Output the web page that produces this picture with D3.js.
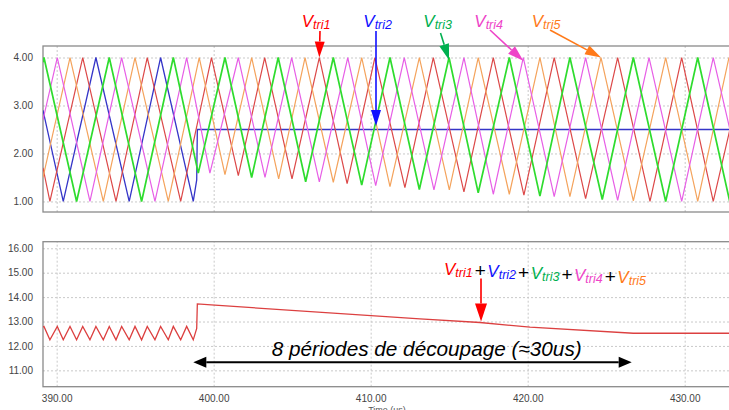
<!DOCTYPE html>
<html><head><meta charset="utf-8">
<script src="https://cdn.jsdelivr.net/npm/d3@7"></script>
<style>
html,body{margin:0;padding:0;background:#fff;overflow:hidden;}
svg{display:block;font-family:"Liberation Sans",Arial,sans-serif;}
</style></head><body>
<svg id="c" width="729" height="410"></svg>
<script>
// ---- data (time in us, values in V) ----
const xTicks = [390, 400, 410, 420, 430];
const topYTicks = [1, 2, 3, 4];
const bottomYTicks = [11, 12, 13, 14, 15, 16];

// Vtri1 (red)
const vtri1 = [[389.13,1.7],[389.57,1.0],[391.66,4.0],[393.78,1.0],[395.77,4.0],[397.90,1.0],[399.86,4.0],[401.57,1.54],[403.25,4.0],[404.99,1.47],[406.73,4.0],[408.50,1.37],[410.27,4.0],[412.18,1.29],[413.99,4.0],[415.94,1.20],[417.81,4.0],[419.76,1.13],[421.69,4.0],[423.69,1.06],[425.73,4.0],[427.79,1.0],[429.81,4.0],[431.82,1.0],[432.95,2.6]];
// Vtri2 (blue)
const vtri2 = [[389.13,2.9],[390.42,1.0],[392.50,4.0],[394.62,1.0],[396.62,4.0],[398.70,1.0],[398.92,1.45],[398.96,2.5],[432.95,2.5]];
// Vtri3 (green)
const vtri3 = [[389.13,3.9],[389.19,4.0],[391.27,1.0],[393.35,4.0],[395.41,1.0],[397.43,4.0],[399.02,1.59],[400.72,4.0],[402.42,1.50],[404.11,4.0],[405.86,1.41],[407.62,4.0],[409.43,1.34],[411.23,4.0],[413.10,1.25],[414.99,4.0],[416.85,1.18],[418.83,4.0],[420.78,1.11],[422.69,4.0],[424.75,1.04],[426.73,4.0],[428.79,1.0],[430.83,4.0],[432.87,1.0]];
// Vtri4 (magenta)
const vtri4 = [[389.13,2.7],[390.04,4.0],[392.12,1.0],[394.14,4.0],[396.26,1.0],[398.28,4.0],[399.76,1.59],[401.57,4.0],[403.27,1.50],[404.97,4.0],[406.73,1.41],[408.54,4.0],[410.32,1.33],[412.14,4.0],[414.03,1.24],[415.94,4.0],[417.81,1.15],[419.72,4.0],[421.69,1.10],[423.69,4.0],[425.73,1.02],[427.73,4.0],[429.81,1.0],[431.82,4.0],[432.95,2.4]];
// Vtri5 (orange)
const vtri5 = [[389.13,1.5],[390.85,4.0],[392.97,1.0],[394.99,4.0],[397.11,1.0],[399.08,4.0],[400.72,1.56],[402.42,4.0],[404.14,1.47],[405.82,4.0],[407.62,1.40],[409.43,4.0],[411.23,1.31],[413.10,4.0],[415.01,1.24],[416.85,4.0],[418.83,1.15],[420.78,4.0],[422.69,1.10],[424.67,4.0],[426.73,1.01],[428.79,4.0],[430.83,1.0],[432.82,4.0]];
// Sum Vtri1+...+Vtri5
const vsum = [[389.13,12.78],[389.19,12.8],[389.57,12.25],[390.04,12.8],[390.42,12.25],[390.85,12.8],[391.27,12.25],[391.66,12.8],[392.12,12.25],[392.50,12.8],[392.97,12.25],[393.35,12.8],[393.78,12.25],[394.14,12.8],[394.62,12.25],[394.99,12.8],[395.41,12.25],[395.77,12.8],[396.26,12.25],[396.62,12.8],[397.11,12.25],[397.43,12.8],[397.90,12.25],[398.28,12.8],[398.70,12.25],[398.92,12.72],[398.96,13.72],[399.84,13.68],[413.14,13.11],[416.96,12.96],[420.15,12.77],[426.73,12.52],[432.95,12.52]];

const seriesColors = {vtri1:"#dc4848", vtri2:"#3535c8", vtri3:"#2edc2e", vtri4:"#e75ee6", vtri5:"#f4a35c"};
const labelColors = ["#ff0000","#1010ff","#00b050","#ee44c8","#ff7a1a"];
const labelSubs = ["tri1","tri2","tri3","tri4","tri5"];

// ---- layout ----
const svg = d3.select("#c");
const L = 43, R = 731;
const x = d3.scaleLinear().domain([389.13, 432.95]).range([L, R]);
const yTop = d3.scaleLinear().domain([0.78, 4.24]).range([212, 46]);
const yBot = d3.scaleLinear().domain([10.33, 16.27]).range([386.7, 241.7]);

const defs = svg.append("defs");
function clip(id, y0, y1){
  defs.append("clipPath").attr("id", id).append("rect")
    .attr("x", L).attr("y", y0).attr("width", R-L).attr("height", y1-y0);
}
clip("cTop", 46, 212); clip("cBot", 241.7, 386.7);

function panel(y, ticks, y0, y1, showX){
  const g = svg.append("g");
  const gy = g.append("g").attr("transform", `translate(${L},0)`)
    .call(d3.axisLeft(y).tickValues(ticks).tickSize(-(R-L)).tickFormat(""));
  gy.select(".domain").remove();
  gy.selectAll("line").attr("stroke", "#c9c9c9").attr("stroke-dasharray", "2,2");
  const gx = g.append("g").attr("transform", `translate(0,${y1})`)
    .call(d3.axisBottom(x).tickValues(xTicks).tickSize(-(y1-y0)).tickFormat(""));
  gx.select(".domain").remove();
  gx.selectAll("line").attr("stroke", "#c9c9c9").attr("stroke-dasharray", "2,2");
  const ay = g.append("g").attr("transform", `translate(${L},0)`)
    .call(d3.axisLeft(y).tickValues(ticks).tickSize(0).tickPadding(10).tickFormat(d3.format(".2f")));
  ay.select(".domain").remove();
  ay.selectAll("text").attr("font-size", 10).attr("fill", "#444").attr("font-family", "Liberation Sans, Arial");
  if (showX){
    const ax = g.append("g").attr("transform", `translate(0,${y1})`)
      .call(d3.axisBottom(x).tickValues(xTicks).tickSize(0).tickPadding(8.5).tickFormat(d3.format(".2f")));
    ax.select(".domain").remove();
    ax.selectAll("text").attr("font-size", 10).attr("fill", "#444").attr("font-family", "Liberation Sans, Arial");
  }
  g.append("rect").attr("x", L).attr("y", y0).attr("width", R-L).attr("height", y1-y0)
    .attr("fill", "none").attr("stroke", "#8a8a8a").attr("stroke-width", 1.3);
}
panel(yTop, topYTicks, 46, 212, false);
panel(yBot, bottomYTicks, 241.7, 386.7, true);

const lineTop = d3.line().x(d => x(d[0])).y(d => yTop(d[1]));
const lineBot = d3.line().x(d => x(d[0])).y(d => yBot(d[1]));

const gTop = svg.append("g").attr("clip-path", "url(#cTop)");
[["vtri2",vtri2,1.3],["vtri1",vtri1,1.2],["vtri5",vtri5,1.2],["vtri4",vtri4,1.2],["vtri3",vtri3,1.7]].forEach(([k,d,w]) => {
  gTop.append("path").datum(d).attr("d", lineTop).attr("fill","none")
    .attr("stroke", seriesColors[k]).attr("stroke-width", w).attr("stroke-linejoin","miter");
});
svg.append("g").attr("clip-path", "url(#cBot)").append("path").datum(vsum).attr("d", lineBot)
  .attr("fill","none").attr("stroke","#dc4040").attr("stroke-width",1.3);

// x-axis title (partly cut, as in the reference)
svg.append("text").attr("x", 387).attr("y", 413).attr("text-anchor","middle")
  .attr("font-size", 9).attr("fill","#555").text("Time (us)");

// ---- annotations ----
function arrow(x1,y1,x2,y2,color,hl,hw,sw){
  const a = Math.atan2(y2-y1, x2-x1);
  const bx = x2 - hl*Math.cos(a), by = y2 - hl*Math.sin(a);
  svg.append("line").attr("x1",x1).attr("y1",y1).attr("x2",bx).attr("y2",by)
    .attr("stroke",color).attr("stroke-width",sw);
  const px = hw/2*Math.sin(a), py = hw/2*Math.cos(a);
  svg.append("path").attr("d", `M${x2},${y2}L${bx+px},${by-py}L${bx-px},${by+py}Z`).attr("fill",color);
}
function vlabel(parent, sub, color, dxV){
  parent.append("tspan").attr("fill", color).attr("font-size", 17).attr("dx", dxV || 0).text("V");
  parent.append("tspan").attr("fill", color).attr("font-size", 12.5).attr("dy", 2).text(sub);
  parent.append("tspan").attr("dy", -2).text("");
}
const topLabelX = [301.7, 363.3, 423.3, 474.3, 531.7];
const arrowStart = [[320,31],[376,31],[440.5,33],[490,30],[550,30]];
const arrowTipData = [[406.73,4.0],[410.34,2.57],[414.99,3.95],[419.72,3.93],[424.67,4.0]];
labelSubs.forEach((s,i) => {
  const t = svg.append("text").attr("x", topLabelX[i]).attr("y", 27)
    .attr("font-style","italic").attr("font-family","Liberation Sans, Arial");
  vlabel(t, s, labelColors[i]);
  const tip = [x(arrowTipData[i][0]), yTop(arrowTipData[i][1])];
  arrow(arrowStart[i][0], arrowStart[i][1], tip[0], tip[1], labelColors[i], 16, 10, 1.6);
});

// bottom label
const bt = svg.append("text").attr("x", 444).attr("y", 275)
  .attr("font-style","italic").attr("font-family","Liberation Sans, Arial");
labelSubs.forEach((s,i) => {
  vlabel(bt, s, labelColors[i], i ? 1.5 : 0);
  if (i < 4) bt.append("tspan").attr("fill","#000").attr("font-style","normal").attr("font-size",19).attr("dx",2).text("+");
});
arrow(481, 278.5, x(417.03), yBot(13.0), "#ff0000", 18, 12, 1.6);

// double arrow & caption
arrow(412, 362.3, 193.3, 362.3, "#000", 13, 11, 2);
arrow(412, 362.3, 631.7, 362.3, "#000", 13, 11, 2);
svg.append("text").attr("x", 271.7).attr("y", 355.5).attr("font-size", 21)
  .attr("font-style","italic").attr("fill","#000").attr("font-family","Liberation Sans, Arial")
  .attr("textLength", 310).attr("lengthAdjust","spacingAndGlyphs")
  .text("8 périodes de découpage (≈30us)");
</script>
</body></html>
